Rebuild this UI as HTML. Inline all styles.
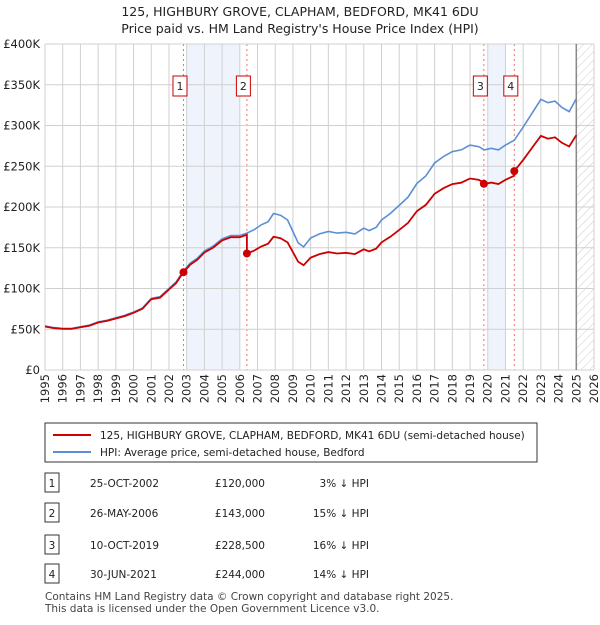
<!DOCTYPE html>
<html><head><meta charset="utf-8"><style>
body{margin:0;background:#fff;font-family:"Liberation Sans","DejaVu Sans",sans-serif;}
svg text{font-family:"DejaVu Sans","Liberation Sans",sans-serif;}
</style></head><body>
<svg id="chart" width="600" height="620" viewBox="0 0 600 620" xmlns="http://www.w3.org/2000/svg">
<defs><pattern id="hatch" width="6" height="6" patternUnits="userSpaceOnUse" patternTransform="rotate(45)"><line x1="0" y1="0" x2="0" y2="6" stroke="#ccc" stroke-width="1"/></pattern></defs>
<text x="300" y="16" text-anchor="middle" font-size="12.5" fill="#222">125, HIGHBURY GROVE, CLAPHAM, BEDFORD, MK41 6DU</text>
<text x="300" y="33" text-anchor="middle" font-size="12.5" fill="#222">Price paid vs. HM Land Registry's House Price Index (HPI)</text>
<g id="shade"></g><g id="grid"></g><g id="lines"></g><g id="marks"></g><g id="axes"></g>
<g>
<rect x="45" y="423" width="492" height="39" fill="#fff" stroke="#333" stroke-width="1"/>
<line x1="53" y1="435" x2="91" y2="435" stroke="#cc0000" stroke-width="2"/>
<text x="100" y="439" font-size="10.5" fill="#222">125, HIGHBURY GROVE, CLAPHAM, BEDFORD, MK41 6DU (semi-detached house)</text>
<line x1="53" y1="452" x2="91" y2="452" stroke="#5b8fd4" stroke-width="2"/>
<text x="100" y="456" font-size="10.5" fill="#222">HPI: Average price, semi-detached house, Bedford</text>
</g>
<g id="table" font-size="10.5" fill="#222"></g>
<text x="45" y="600" font-size="10.5" fill="#444">Contains HM Land Registry data © Crown copyright and database right 2025.</text>
<text x="45" y="612" font-size="10.5" fill="#444">This data is licensed under the Open Government Licence v3.0.</text>
</svg>
<script>
const hpiYears=[1995,1995.5,1996,1996.5,1997,1997.5,1998,1998.5,1999,1999.5,2000,2000.5,2001,2001.5,2002,2002.4,2002.8,2003.2,2003.6,2004,2004.5,2005,2005.5,2006,2006.4,2006.8,2007.2,2007.6,2007.9,2008.3,2008.7,2009,2009.3,2009.6,2010,2010.5,2011,2011.5,2012,2012.5,2013,2013.3,2013.7,2014,2014.5,2015,2015.5,2016,2016.5,2017,2017.5,2018,2018.5,2019,2019.5,2019.8,2020.2,2020.6,2021,2021.5,2022,2022.5,2023,2023.4,2023.8,2024.2,2024.6,2025];
const hpiValues=[54,52,51,51,53,55,59,61,64,67,71,76,88,90,100,108,121,131,137,146,152,161,165,165,168,172,178,182,192,190,184,170,156,151,162,167,170,168,169,167,174,171,175,184,192,202,212,229,238,254,262,268,270,276,274,270,272,270,276,282,298,315,332,328,330,322,317,333];
const saleLabels=["1","2","3","4"];
const saleDates=["25-OCT-2002","26-MAY-2006","10-OCT-2019","30-JUN-2021"];
const saleYears=[2002.82,2006.4,2019.78,2021.5];
const salePrices=[120000,143000,228500,244000];
const saleDiffs=["3% ↓ HPI","15% ↓ HPI","16% ↓ HPI","14% ↓ HPI"];
const yTicks=[0,50,100,150,200,250,300,350,400];
const yTickLabels=["£0","£50K","£100K","£150K","£200K","£250K","£300K","£350K","£400K"];
const shadeRanges=[[2003,2006],[2020,2021]];

const NS="http://www.w3.org/2000/svg";
const X0=45,X1=594,Y0=370,Y1=44,YR0=1995,YR1=2026;
const xs=y=>X0+(y-YR0)/(YR1-YR0)*(X1-X0);
const ys=v=>Y0-v/400*(Y0-Y1);
function mk(tag,attrs,parent){const e=document.createElementNS(NS,tag);for(const k in attrs)e.setAttribute(k,attrs[k]);parent.appendChild(e);return e;}
const grid=document.getElementById('grid'),shade=document.getElementById('shade'),lines=document.getElementById('lines'),marks=document.getElementById('marks'),axes=document.getElementById('axes'),table=document.getElementById('table');
function hpiAt(t){for(let i=0;i<hpiYears.length-1;i++){if(t<=hpiYears[i+1]){const f=(t-hpiYears[i])/(hpiYears[i+1]-hpiYears[i]);return hpiValues[i]+f*(hpiValues[i+1]-hpiValues[i]);}}return hpiValues[hpiValues.length-1];}
let h=mk('rect',{x:xs(2025),y:Y1,width:X1-xs(2025),height:Y0-Y1,fill:'url(#hatch)'},grid);


for(let yr=YR0;yr<=YR1;yr++){
 let l=mk('line',{x1:xs(yr),x2:xs(yr),y1:Y1,y2:Y0,stroke:'#d0d0d0','stroke-width':1},grid);
 
 
 let t=mk('text',{x:0,y:0,'font-size':11.5,fill:'#222','text-anchor':'end',transform:`translate(${xs(yr)+4},374) rotate(-90)`},axes);
 t.textContent=yr;
 
 
}
yTicks.forEach((v,i)=>{
 let l=mk('line',{x1:X0,x2:X1,y1:ys(v),y2:ys(v),stroke:'#d0d0d0','stroke-width':1},grid);
 
 
 let t=mk('text',{x:40,y:ys(v)+4,'font-size':11.5,fill:'#222','text-anchor':'end'},axes);
 t.textContent=yTickLabels[i];
 
 
});
let vl=mk('line',{x1:xs(2025),x2:xs(2025),y1:Y1,y2:Y0,stroke:'#888','stroke-width':1.5},grid);


shadeRanges.forEach(r=>{
 let s=mk('rect',{x:xs(r[0]),y:Y1,width:xs(r[1])-xs(r[0]),height:Y0-Y1,fill:'#eef3fc'},shade);
 
 
});
let d=hpiYears.map((t,i)=>(i?'L':'M')+xs(t).toFixed(1)+','+ys(hpiValues[i]).toFixed(1)).join('');
let hp=mk('path',{d:d,fill:'none',stroke:'#5b8fd4','stroke-width':1.6},lines);


const ratios=saleYears.map((t,i)=>salePrices[i]/1000/hpiAt(t));
function ratioAt(t){let r=ratios[0];for(let i=0;i<saleYears.length;i++)if(t>=saleYears[i])r=ratios[i];return r;}
let pts=[];
hpiYears.forEach((t,i)=>{
 saleYears.forEach((s,k)=>{if(i>0&&s>hpiYears[i-1]&&s<=t){pts.push([s-0.001,hpiAt(s)*(k?ratios[k-1]:ratios[0])]);pts.push([s,salePrices[k]/1000]);}});
 pts.push([t,hpiValues[i]*ratioAt(t)]);
});
let d2=pts.map((p,i)=>(i?'L':'M')+xs(p[0]).toFixed(1)+','+ys(p[1]).toFixed(1)).join('');
let pp=mk('path',{d:d2,fill:'none',stroke:'#cc0000','stroke-width':1.8},lines);


saleYears.forEach((t,i)=>{
 let vx=mk('line',{x1:xs(t),x2:xs(t),y1:Y1,y2:Y0,stroke:'#f07070','stroke-width':1,'stroke-dasharray':'2,3'},shade);
 
 
 let c=mk('circle',{cx:xs(t),cy:ys(salePrices[i]/1000),r:4,fill:'#cc0000'},marks);
 
 
 let bx=mk('rect',{x:xs(t)-10.5,y:76,width:14,height:20,fill:'#fff',stroke:'#cc0000','stroke-width':1},marks);
 
 
 let tx=mk('text',{x:xs(t)-3.5,y:90,'font-size':11,fill:'#222','text-anchor':'middle'},marks);
 tx.textContent=saleLabels[i];
 
 
 const ry=[483,513,545,574][i];
 let tb=mk('rect',{x:45,y:ry-10,width:14,height:19,fill:'#fff',stroke:'#333','stroke-width':1},table);
 
 
 let tn=mk('text',{x:52,y:ry+4,'text-anchor':'middle'},table);
 tn.textContent=saleLabels[i];
 
 
 let td=mk('text',{x:90,y:ry+4},table);
 td.textContent=saleDates[i];
 
 
 let tp=mk('text',{x:265,y:ry+4,'text-anchor':'end'},table);
 tp.textContent='£'+salePrices[i].toLocaleString('en-GB');
 
 
 let tf=mk('text',{x:369,y:ry+4,'text-anchor':'end'},table);
 tf.textContent=saleDiffs[i];
 
 
});
</script>
</body></html>
